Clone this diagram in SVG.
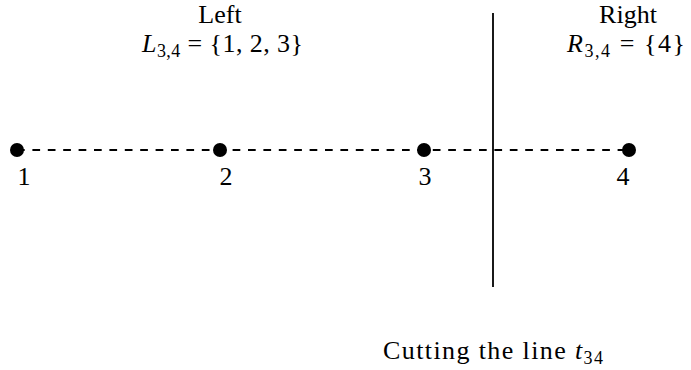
<svg xmlns="http://www.w3.org/2000/svg" width="691" height="370" viewBox="0 0 691 370">
<style>
text{font-family:"Liberation Serif","DejaVu Serif",serif;font-size:26px;fill:#000}
.it{font-style:italic}
.sub{font-size:18px}
.dot{fill:#000}
</style>
<rect width="691" height="370" fill="#fff"/>
<g id="connectors">
<line x1="17" y1="150" x2="629" y2="150" stroke="#000" stroke-width="1.8" stroke-dasharray="7.7,7.7"/>
<line x1="493" y1="13" x2="493" y2="287" stroke="#000" stroke-width="1.8"/>
</g>
<g id="node1"><circle class="dot" cx="17" cy="150" r="7"/><text x="24" y="185" text-anchor="middle">1</text></g>
<g id="node2"><circle class="dot" cx="220" cy="150" r="7"/><text x="226" y="185" text-anchor="middle">2</text></g>
<g id="node3"><circle class="dot" cx="424" cy="150" r="7"/><text x="425" y="185" text-anchor="middle">3</text></g>
<g id="node4"><circle class="dot" cx="629" cy="150" r="7"/><text x="623" y="185" text-anchor="middle">4</text></g>
<g id="left-label">
<text x="220" y="23" text-anchor="middle">Left</text>
<text x="142" y="52" textLength="161" lengthAdjust="spacing"><tspan class="it">L</tspan><tspan class="sub" dy="5">3,4</tspan><tspan dy="-5"> = {1, 2, 3}</tspan></text>
</g>
<g id="right-label">
<text x="628" y="23" text-anchor="middle">Right</text>
<text x="567" y="52" textLength="118" lengthAdjust="spacing"><tspan class="it">R</tspan><tspan class="sub" dy="5">3,4</tspan><tspan dy="-5"> = {4}</tspan></text>
</g>
<g id="caption">
<text x="383" y="359" textLength="220" lengthAdjust="spacing">Cutting the line <tspan class="it">t</tspan><tspan class="sub" dy="5">34</tspan></text>
</g>
</svg>
